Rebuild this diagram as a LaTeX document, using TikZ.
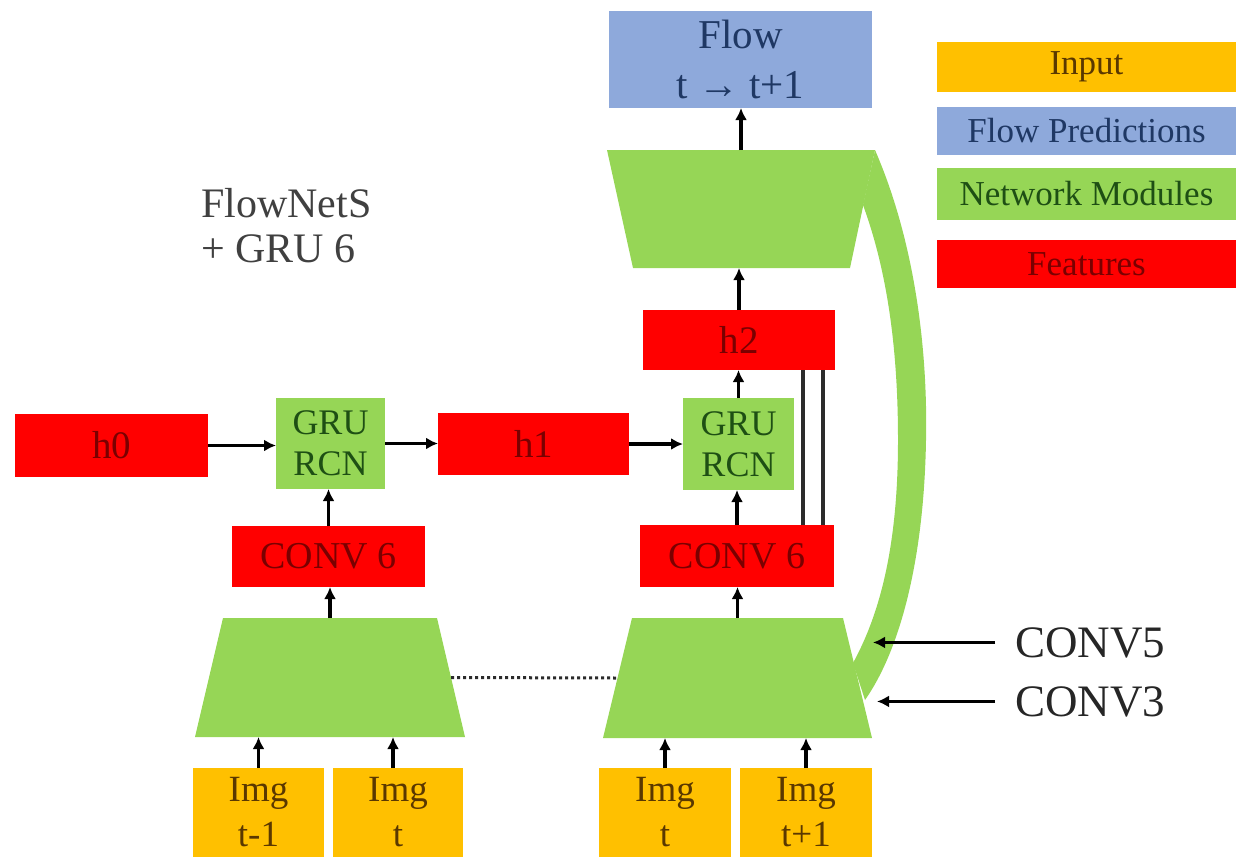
\documentclass[tikz,border=0pt]{standalone}
\usepackage{fontspec}
\setmainfont{Liberation Serif}
\usetikzlibrary{arrows.meta,calc}

\definecolor{inorange}{HTML}{FFC000}
\definecolor{flowblue}{HTML}{8EA9DB}
\definecolor{netgreen}{HTML}{96D656}
\definecolor{featred}{HTML}{FF0000}
\definecolor{orangetext}{HTML}{5A3800}
\definecolor{bluetext}{HTML}{1F3864}
\definecolor{greentext}{HTML}{1E4F14}
\definecolor{redtext}{HTML}{7A0000}
\definecolor{titlegray}{HTML}{404040}
\definecolor{labeldark}{HTML}{262626}
\definecolor{wiregray}{HTML}{2B2B2B}

\tikzset{
  box/.style={rectangle, inner sep=0pt, outer sep=0pt, align=center},
  feat/.style={box, fill=featred, text=redtext},
  netmod/.style={box, fill=netgreen, text=greentext},
  inbox/.style={box, fill=inorange, text=orangetext},
  flowbox/.style={box, fill=flowblue, text=bluetext},
  legendbox/.style={minimum width=299, font=\fontsize{35}{40}\selectfont},
  trapbox/.style={rectangle, inner sep=0pt, outer sep=0pt},
  arr/.style={line width=3.2pt, draw=black, -{Latex[length=12pt,width=12pt]}},
  dotline/.style={line width=3pt, draw=wiregray, dash pattern=on 3pt off 3pt},
  skipwire/.style={line width=3.4pt, draw=wiregray},
  sidelabel/.style={inner sep=0pt, text=labeldark, font=\fontsize{45}{50}\selectfont},
}

\begin{document}
\begin{tikzpicture}[x=1pt,y=-1pt]
\useasboundingbox (0,0) rectangle (1236,857);

% ---- legend ----
\node[inbox, legendbox, minimum height=50] (legIn) at (1086.5,67) {Input};
\node[flowbox, legendbox, minimum height=48] (legFlow) at (1086.5,131) {Flow Predictions};
\node[netmod, legendbox, minimum height=52] (legNet) at (1086.5,194) {Network Modules};
\node[feat, legendbox, minimum height=48] (legFeat) at (1086.5,264) {Features};

% ---- title ----
\node[anchor=north west, align=left, inner sep=0pt, text=titlegray,
      font=\fontsize{42}{45}\selectfont] (title) at (201,188) {FlowNetS\\+ GRU 6};

% ---- output ----
\node[flowbox, minimum width=263, minimum height=97, font=\fontsize{41}{50}\selectfont] (flow) at (740.5,59.5) {Flow\\t → t+1};

% ---- skip connection band from encoder to decoder ----
\fill[netgreen] (875,150) .. controls (912,235) and (928,340) .. (926,440)
  .. controls (924,560) and (900,650) .. (865,700)
  -- (853,663)
  .. controls (882,610) and (898,540) .. (898,440)
  .. controls (898,340) and (885,265) .. (863,205) -- cycle;

% ---- decoder ----
\node[trapbox, minimum width=268, minimum height=118] (dec) at (741,209) {};
\fill[netgreen] (dec.north west) -- (dec.north east) -- ([xshift=-25pt]dec.south east)
  -- ([xshift=26pt]dec.south west) -- cycle;

% ---- recurrent features and GRU units ----
\node[feat, minimum width=192, minimum height=60, font=\fontsize{39}{44}\selectfont] (h2) at (739,340) {h2};
\node[netmod, minimum width=111, minimum height=92, font=\fontsize{36}{41}\selectfont] (gruR) at (738.5,444) {GRU\\RCN};
\node[netmod, minimum width=109, minimum height=91, font=\fontsize{36}{41}\selectfont] (gruL) at (330.5,443.5) {GRU\\RCN};
\node[feat, minimum width=193, minimum height=63, font=\fontsize{39}{44}\selectfont] (h0) at (111.5,445.5) {h0};
\node[feat, minimum width=191, minimum height=62, font=\fontsize{39}{44}\selectfont] (h1) at (533.5,444) {h1};
\node[feat, minimum width=193, minimum height=61, font=\fontsize{38}{42}\selectfont] (c6L) at (328.5,556.5) {CONV 6};
\node[feat, minimum width=194, minimum height=62, font=\fontsize{38}{42}\selectfont] (c6R) at (737,556) {CONV 6};

% ---- encoders ----
\node[trapbox, minimum width=270, minimum height=119] (encL) at (330,677.5) {};
\fill[netgreen] ([xshift=28pt]encL.north west) -- ([xshift=-28pt]encL.north east)
  -- (encL.south east) -- (encL.south west) -- cycle;
\node[trapbox, minimum width=269, minimum height=120] (encR) at (737.5,678) {};
\fill[netgreen] ([xshift=29pt]encR.north west) -- ([xshift=-29pt]encR.north east)
  -- (encR.south east) -- (encR.south west) -- cycle;

% ---- inputs ----
\node[inbox, minimum width=131, minimum height=89, font=\fontsize{37}{45}\selectfont] (imgA) at (258.5,812.5) {Img\\t-1};
\node[inbox, minimum width=130, minimum height=89, font=\fontsize{37}{45}\selectfont] (imgB) at (398,812.5) {Img\\t};
\node[inbox, minimum width=132, minimum height=89, font=\fontsize{37}{45}\selectfont] (imgC) at (665,812.5) {Img\\t};
\node[inbox, minimum width=132, minimum height=89, font=\fontsize{37}{45}\selectfont] (imgD) at (806,812.5) {Img\\t+1};

% ---- connectors ----
\draw[arr] (imgA.north) -- (imgA.north |- encL.south);
\draw[arr] ([xshift=-5pt]imgB.north) -- ([xshift=-5pt]imgB.north |- encL.south);
\draw[arr] (imgC.north) -- (imgC.north |- encR.south);
\draw[arr] (imgD.north) -- (imgD.north |- encR.south);

\draw[arr] (encL.north) -- (encL.north |- c6L.south);
\draw[arr] (encR.north) -- (encR.north |- c6R.south);
\draw[arr] (c6L.north) -- (c6L.north |- gruL.south);
\draw[arr] (c6R.north) -- (c6R.north |- gruR.south);
\draw[arr] (gruR.north) -- (gruR.north |- h2.south);
\draw[arr] (h2.north) -- (h2.north |- dec.south);
\draw[arr] (dec.north) -- (dec.north |- flow.south);

\draw[arr] (h0.east) -- (h0.east -| gruL.west);
\draw[arr] (gruL.east) -- (gruL.east -| h1.west);
\draw[arr] (h1.east) -- (h1.east -| gruR.west);

% direct CONV 6 -> h2 wires
\draw[skipwire] ([xshift=-31pt]c6R.north east) -- ([xshift=-31pt]c6R.north east |- h2.south);
\draw[skipwire] ([xshift=-11pt]c6R.north east) -- ([xshift=-11pt]c6R.north east |- h2.south);

% shared encoder weights
\draw[dotline] ($([xshift=-28pt]encL.north east)!0.5!(encL.south east)$)
  -- ($([xshift=29pt]encR.north west)!0.5!(encR.south west)$);

% ---- side labels ----
\node[sidelabel, anchor=base west] (l5) at (1015,657) {CONV5};
\node[sidelabel, anchor=base west] (l3) at (1015,716) {CONV3};
\coordinate (t5) at (873,640);
\coordinate (t3) at (877,699);
\draw[arr] ([xshift=-20pt]l5.west) -- (l5.west -| t5);
\draw[arr] ([xshift=-20pt]l3.west) -- (l3.west -| t3);
\end{tikzpicture}
\end{document}
